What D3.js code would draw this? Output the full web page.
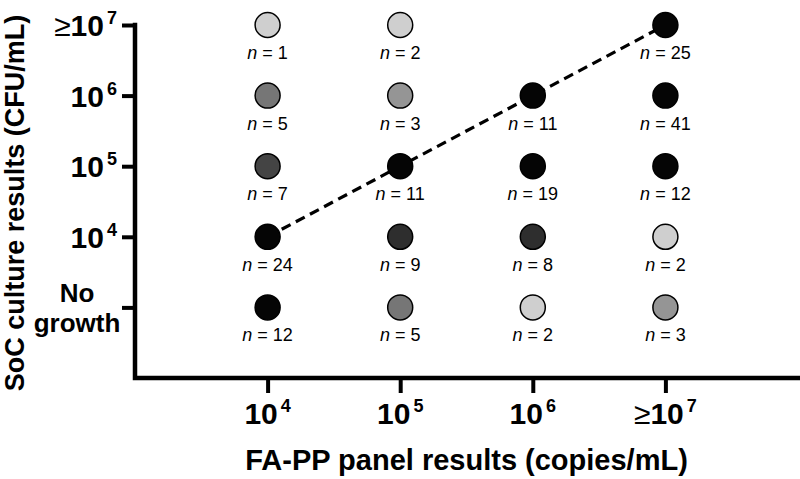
<!DOCTYPE html>
<meta charset="utf-8">
<style>
  body { margin: 0; background: #fff; }
  svg { font-family: "Liberation Sans", Arial, sans-serif; }
  .tick line { stroke: #000; stroke-width: 4; }
  .nlab { font-size: 18px; }
  .ticklab { font-size: 30px; font-weight: bold; }
  .title { font-weight: bold; }
</style>
<body>
<script src="https://cdn.jsdelivr.net/npm/d3@7"></script>
<script>
  // categories (x: FA-PP panel, y: SoC culture)
  var xCats = ["1e4", "1e5", "1e6", "1e7"];
  var yCats = ["none", "1e4", "1e5", "1e6", "1e7"];

  // tick labels: [prefix, base, exponent]
  var xLabels = [["", "10", "4"], ["", "10", "5"], ["", "10", "6"], ["\u2265", "10", "7"]];
  var yLabels = [["No", "growth"], ["", "10", "4"], ["", "10", "5"], ["", "10", "6"], ["\u2265", "10", "7"]];

  // counts per column (x category), rows bottom to top (No growth .. >=10^7)
  var col1e4 = [12, 24, 7, 5, 1];
  var col1e5 = [5, 9, 11, 3, 2];
  var col1e6 = [2, 8, 19, 11, null];
  var col1e7 = [3, 2, 12, 41, 25];
  var columns = [col1e4, col1e5, col1e6, col1e7];

  // concordance line: from 10^4/10^4 to >=10^7/>=10^7
  var diagonal = [["1e4", "1e4"], ["1e5", "1e5"], ["1e6", "1e6"], ["1e7", "1e7"]];

  var width = 800, height = 479;
  var pLeft = 135, pRight = 798, pTop = 25, pBottom = 378;

  var svg = d3.select("body").append("svg")
      .attr("width", width)
      .attr("height", height);

  var x = d3.scalePoint().domain(xCats).range([pLeft, pRight]).padding(1);
  var yStep = (pBottom - pTop) / yCats.length;
  var y = d3.scalePoint().domain(yCats).range([pBottom - yStep, pTop]);

  // shade by count
  var shade = d3.scaleThreshold()
      .domain([3, 5, 7, 8, 11])
      .range(["#cfcfcf", "#959595", "#767676", "#444444", "#2e2e2e", "#050505"]);

  var points = [];
  columns.forEach(function(col, i) {
    col.forEach(function(n, j) {
      if (n != null) points.push({x: xCats[i], y: yCats[j], n: n});
    });
  });

  // axes
  var xAxis = d3.axisBottom(x).tickSize(15).tickSizeOuter(0).tickFormat("");
  var yAxis = d3.axisLeft(y).tickSize(13).tickSizeOuter(0).tickFormat("");

  svg.append("g").attr("transform", "translate(0," + pBottom + ")").call(xAxis)
    .select(".domain").remove();
  svg.append("g").attr("transform", "translate(" + pLeft + ",0)").call(yAxis)
    .select(".domain").remove();

  svg.append("path")
      .attr("d", "M" + pLeft + "," + pTop + "V" + pBottom + "H" + pRight)
      .attr("fill", "none")
      .attr("stroke", "#000")
      .attr("stroke-width", 4.5)
      .attr("stroke-linecap", "square");

  function sup(sel, lab) {
    if (lab[0]) sel.append("tspan").attr("font-weight", "normal").text(lab[0]);
    sel.append("tspan").text(lab[1]);
    sel.append("tspan").style("font-size", "18px").attr("dy", -12).attr("dx", 3).text(lab[2]);
  }

  // x tick labels
  xCats.forEach(function(c, i) {
    var t = svg.append("text").attr("class", "ticklab")
        .attr("x", x(c)).attr("y", 424).attr("text-anchor", "middle");
    sup(t, xLabels[i]);
  });

  // y tick labels
  yCats.forEach(function(c, i) {
    var lab = yLabels[i];
    if (lab.length === 2) {
      var t = svg.append("text").attr("class", "ticklab")
          .style("font-size", "26px")
          .attr("x", 77).attr("text-anchor", "middle");
      t.append("tspan").attr("x", 77).attr("y", y(c) - 5).text(lab[0]);
      t.append("tspan").attr("x", 77).attr("y", y(c) + 25).text(lab[1]);
    } else {
      var t2 = svg.append("text").attr("class", "ticklab")
          .attr("x", 117).attr("y", y(c) + 11).attr("text-anchor", "end");
      sup(t2, lab);
    }
  });

  // dashed concordance line
  svg.append("path")
      .datum(diagonal)
      .attr("d", d3.line().x(function(d) { return x(d[0]); }).y(function(d) { return y(d[1]); }))
      .attr("fill", "none")
      .attr("stroke", "#000")
      .attr("stroke-width", 3.2)
      .attr("stroke-dasharray", "10,6");

  // circles
  svg.selectAll(".dot").data(points).enter().append("circle")
      .attr("class", "dot")
      .attr("cx", function(d) { return x(d.x); })
      .attr("cy", function(d) { return y(d.y); })
      .attr("r", 12.5)
      .attr("fill", function(d) { return shade(d.n); })
      .attr("stroke", "#000")
      .attr("stroke-width", 1.5);

  // n labels
  var nl = svg.selectAll(".nlab").data(points).enter().append("text")
      .attr("class", "nlab")
      .attr("x", function(d) { return x(d.x); })
      .attr("y", function(d) { return y(d.y) + 34; })
      .attr("text-anchor", "middle");
  nl.append("tspan").attr("font-style", "italic").text("n");
  nl.append("tspan").text(function(d) { return " = " + d.n; });

  // titles
  svg.append("text").attr("class", "title")
      .style("font-size", "29px")
      .attr("x", (pLeft + pRight) / 2).attr("y", 470)
      .attr("text-anchor", "middle")
      .text("FA-PP panel results (copies/mL)");

  svg.append("text").attr("class", "title")
      .style("font-size", "27px")
      .attr("transform", "translate(24," + 203 + ") rotate(-90)")
      .attr("text-anchor", "middle")
      .text("SoC culture results (CFU/mL)");
</script>
</body>
